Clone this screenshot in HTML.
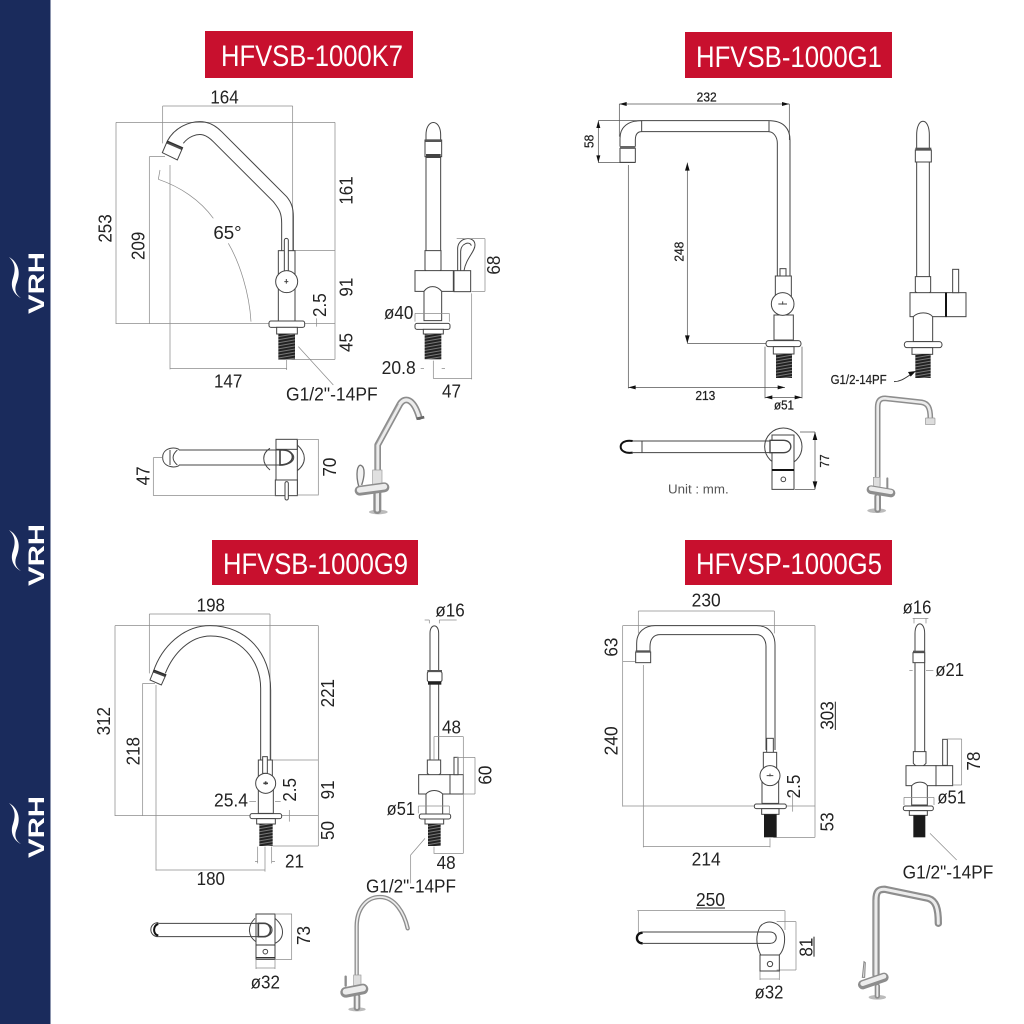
<!DOCTYPE html>
<html><head><meta charset="utf-8"><style>
html,body{margin:0;padding:0;background:#fff;width:1024px;height:1024px;overflow:hidden}
svg{display:block;filter:blur(.3px)}
text{font-family:"Liberation Sans",sans-serif;fill:#222}
.t{font-size:56px}.s{font-size:38px;stroke:#222;stroke-width:.7}
.d{stroke:#8c8c8c;stroke-width:2.2;fill:none}
.o{stroke:#444;stroke-width:3;fill:none}
.f{stroke:#444;stroke-width:3;fill:#fff}
.a{stroke:#8d8d8d;fill:none;stroke-linecap:round;stroke-linejoin:round}
.b{stroke:#ececec;fill:none;stroke-linecap:round;stroke-linejoin:round}
.c{stroke:#a5a5a5;fill:none;stroke-linecap:round;stroke-linejoin:round}
.k{fill:#111}
.h{font-size:30px;fill:#fff}
.v{font-size:22px;fill:#fff;font-weight:bold}
</style></head><body>
<svg width="1024" height="1024" viewBox="0 0 1024 1024" xmlns="http://www.w3.org/2000/svg">
<defs>
<pattern id="th" width="8" height="9" patternUnits="userSpaceOnUse" patternTransform="rotate(-10)"><rect width="8" height="9" fill="#222"/><rect width="8" height="3" fill="#777"/></pattern>
</defs>
<rect width="1024" height="1024" fill="#fff"/>
<rect width="50.5" height="1024" fill="#1a2b5c"/>
<g fill="#fff">
<path d="M9,257C18,262 21,272 17,282C14,289 15,294 21,298C13,294 10,286 13,278C16,269 15,263 9,257Z"/>
<path d="M9,530C18,535 21,545 17,555C14,562 15,567 21,571C13,567 10,559 13,551C16,542 15,536 9,530Z"/>
<path d="M9,803C18,808 21,818 17,828C14,835 15,840 21,844C13,840 10,832 13,824C16,815 15,809 9,803Z"/>
</g>
<text class="v" transform="translate(44,314) rotate(-90)" textLength="62" lengthAdjust="spacingAndGlyphs">VRH</text>
<text class="v" transform="translate(44,586) rotate(-90)" textLength="62" lengthAdjust="spacingAndGlyphs">VRH</text>
<text class="v" transform="translate(44,858) rotate(-90)" textLength="62" lengthAdjust="spacingAndGlyphs">VRH</text>

<rect x="205" y="31" width="208" height="47" fill="#c8102e"/>
<text class="h" x="221" y="66" textLength="182" lengthAdjust="spacingAndGlyphs">HFVSB-1000K7</text>
<rect x="685" y="32" width="207" height="46" fill="#c8102e"/>
<text class="h" x="696" y="67" textLength="186" lengthAdjust="spacingAndGlyphs">HFVSB-1000G1</text>
<rect x="212" y="540" width="206" height="45" fill="#c8102e"/>
<text class="h" x="223" y="574" textLength="185" lengthAdjust="spacingAndGlyphs">HFVSB-1000G9</text>
<rect x="685" y="540" width="207" height="45" fill="#c8102e"/>
<text class="h" x="696" y="574" textLength="186" lengthAdjust="spacingAndGlyphs">HFVSP-1000G5</text>

<!-- PANEL 1 -->
<g transform="translate(90,80) scale(.33333)">
<path class="d" d="M218,78H608M218,78V190M608,78V512M78,127H735M78,127V732M735,127V838M78,731H735M178,230V731M178,230H225M240,255V868M240,866H590M590,840V870M615,512H735M565,838H735M680,715V740M625,800L730,915M205,298L210,270M205,298C270,320 330,360 370,415M415,490C450,550 478,640 483,725"/>
<path class="o" d="M232,183C255,140 300,125 330,125C360,125 380,140 395,155L590,350C605,368 610,385 610,410V512M280,190C295,170 320,160 340,165C350,168 360,175 370,185L550,365C565,385 575,395 575,430V512"/>
<path class="f" d="M232,183L278,203L262,240L217,218Z"/>
<path class="k" d="M232,183L278,203L275,210L229,190Z" opacity=".75"/>
<rect class="f" x="565" y="512" width="50" height="212"/>
<rect class="f" x="583" y="475" width="12" height="155" rx="6"/>
<circle class="f" cx="590" cy="605" r="33"/>
<path class="o" d="M583,605h12M589,597v14"/>
<rect class="f" x="537" y="723" width="107" height="19" rx="6"/>
<rect class="f" x="560" y="742" width="62" height="20"/>
<rect x="565" y="762" width="50" height="76" fill="url(#th)"/>
<text class="t" x="361" y="71" textLength="85" lengthAdjust="spacingAndGlyphs">164</text>
<text class="t" transform="translate(65,488) rotate(-90)" textLength="85" lengthAdjust="spacingAndGlyphs">253</text>
<text class="t" transform="translate(163,540) rotate(-90)" textLength="85" lengthAdjust="spacingAndGlyphs">209</text>
<text class="t" x="370" y="477" textLength="85" lengthAdjust="spacingAndGlyphs">65°</text>
<text class="t" transform="translate(788,374) rotate(-90)" textLength="85" lengthAdjust="spacingAndGlyphs">161</text>
<text class="t" transform="translate(788,650) rotate(-90)" textLength="57" lengthAdjust="spacingAndGlyphs">91</text>
<text class="t" transform="translate(708,711) rotate(-90)" textLength="71" lengthAdjust="spacingAndGlyphs">2.5</text>
<text class="t" transform="translate(788,816) rotate(-90)" textLength="57" lengthAdjust="spacingAndGlyphs">45</text>
<text class="t" x="372" y="923" textLength="85" lengthAdjust="spacingAndGlyphs">147</text>
<text class="t" x="588" y="962" textLength="275" lengthAdjust="spacingAndGlyphs">G1/2"-14PF</text>
<!-- side -->
<path class="o" d="M1008,512V165C1008,115 1052,115 1052,165V512"/>
<rect class="f" x="1005" y="180" width="50" height="50"/>
<rect x="1006" y="178" width="48" height="8" fill="#555"/>
<rect x="1008" y="222" width="44" height="12" fill="#444"/>
<path class="f" d="M1005,570V512H1053V570C1040,585 1018,585 1005,570Z"/>
<path class="f" d="M975,572H1090V634H975Z"/>
<path class="f" d="M1002,634C1015,615 1040,615 1055,634V722H1002Z"/>
<rect class="f" x="1092" y="572" width="50" height="63"/>
<path class="o" d="M1103,572V510C1100,470 1155,465 1155,495C1155,515 1128,535 1122,572M1112,572V515C1112,490 1140,482 1144,497"/>
<rect class="f" x="975" y="730" width="105" height="18" rx="6"/>
<rect class="f" x="1000" y="748" width="60" height="14"/>
<rect x="1004" y="762" width="50" height="76" fill="url(#th)"/>
<path class="d" d="M1100,476H1185M1185,476V634M1145,634H1185M975,700H1078M975,700V725M1078,700V725M992,866H1002M1055,866H1065M1030,842V895M1030,896H1145M1145,640V898"/>
<text class="t" transform="translate(1230,584) rotate(-90)" textLength="57" lengthAdjust="spacingAndGlyphs">68</text>
<text class="t" x="882" y="717" textLength="88" lengthAdjust="spacingAndGlyphs">ø40</text>
<text class="t" x="875" y="882" textLength="102" lengthAdjust="spacingAndGlyphs">20.8</text>
<text class="t" x="1056" y="952" textLength="57" lengthAdjust="spacingAndGlyphs">47</text>
<!-- top -->
<path class="f" d="M218,1132C218,1100 262,1100 268,1110H570C625,1110 625,1155 570,1155H268C262,1165 218,1165 218,1132Z"/>
<path class="o" d="M240,1110V1155M262,1110C245,1125 245,1140 262,1155"/>
<path class="o" d="M540,1105C515,1120 515,1150 540,1170M622,1095C650,1120 650,1150 622,1172"/>
<rect class="f" x="558" y="1078" width="64" height="30"/>
<path class="o" d="M558,1078V1245H622V1078"/>
<path class="f" d="M570,1110C620,1105 620,1155 570,1155Z" style="stroke-width:5"/>
<rect class="f" x="556" y="1200" width="66" height="47"/>
<rect class="f" x="585" y="1205" width="10" height="55" rx="5"/>
<path class="d" d="M622,1078H685V1245H622M190,1133V1246H556M190,1133H218"/>
<text class="t" transform="translate(178,1216) rotate(-90)" textLength="57" lengthAdjust="spacingAndGlyphs">47</text>
<text class="t" transform="translate(738,1190) rotate(-90)" textLength="57" lengthAdjust="spacingAndGlyphs">70</text>
</g>
<!-- photo 1 -->
<g transform="translate(345,390) scale(.33333)">
<path d="M42,292C30,250 38,222 48,226C62,232 58,262 50,285" fill="#f2f2f2" stroke="#777" stroke-width="4"/>
<ellipse cx="100" cy="366" rx="28" ry="7" fill="#bbb"/>
<path class="a" stroke-width="24" d="M97,360V305"/><path class="b" stroke-width="10" d="M97,360V305"/>
<path class="a" stroke-width="20" d="M98,290V165L165,42C180,20 205,25 222,80"/>
<path class="b" stroke-width="10" d="M98,290V165L165,42C180,20 205,25 222,80"/>
<path class="c" stroke-width="2.5" d="M93,290V165L160,42"/>
<rect x="214" y="80" width="24" height="8" fill="#666" transform="rotate(-12 226 84)"/>
<rect x="83" y="240" width="28" height="55" fill="#e0e0e0" stroke="#999" stroke-width="2"/>
<path class="a" stroke-width="30" d="M44,302L118,292"/><path class="b" stroke-width="17" d="M44,300L118,290"/>
</g>

<!-- PANEL 2 -->
<g transform="translate(570,80) scale(.33333)">
<path class="d" style="stroke:#555" d="M148,72H658M148,72V170M658,72V180M85,122H215M85,122V248M85,248H195M352,248V790M352,790H590M175,255V925M175,922H645M585,800V955M696,800V955M585,952H696M690,1056H735M735,1056V1228M675,1228H735"/>
<g class="k"><path d="M148,72l22,-6v12ZM658,72l-22,-6v12ZM85,122l-6,22h12ZM85,248l-6,-22h12ZM352,248l-7,24h14ZM352,790l-7,-24h14ZM175,922l22,-6v12ZM645,922l-22,-6v12ZM585,952l22,-6v12ZM696,952l-22,-6v12ZM735,1056l-7,24h14ZM735,1228l-7,-24h14Z"/></g>
<path class="o" d="M150,200V175C150,140 175,122 215,122H595C640,122 660,145 660,180V590M196,200V180C196,160 205,155 215,155H595C610,155 622,170 622,190V590M215,122V155M597,122V155"/>
<rect class="f" x="150" y="205" width="46" height="42"/>
<rect x="150" y="198" width="46" height="8" fill="#666"/>
<rect class="f" x="630" y="566" width="18" height="60"/>
<rect class="f" x="616" y="588" width="48" height="60"/>
<path class="f" d="M612,705H670V780H612Z"/>
<circle class="f" cx="638" cy="672" r="34"/>
<path class="o" d="M625,672h26M638,664v10"/>
<rect class="f" x="588" y="782" width="105" height="18" rx="8"/>
<rect class="f" x="610" y="800" width="62" height="22"/>
<rect x="618" y="822" width="48" height="72" fill="url(#th)"/>
<text class="s" x="380" y="64" textLength="60" lengthAdjust="spacingAndGlyphs">232</text>
<text class="s" transform="translate(70,204) rotate(-90)" textLength="40" lengthAdjust="spacingAndGlyphs">58</text>
<text class="s" transform="translate(340,545) rotate(-90)" textLength="60" lengthAdjust="spacingAndGlyphs">248</text>
<text class="s" x="376" y="960" textLength="60" lengthAdjust="spacingAndGlyphs">213</text>
<text class="s" x="612" y="989" textLength="60" lengthAdjust="spacingAndGlyphs">ø51</text>
<text class="s" transform="translate(777,1163) rotate(-90)" textLength="40" lengthAdjust="spacingAndGlyphs">77</text>
<!-- side -->
<path class="o" d="M1040,590V165C1040,110 1078,110 1078,165V590"/>
<rect class="f" x="1036" y="210" width="48" height="36"/>
<rect x="1036" y="203" width="48" height="9" fill="#555"/>
<path class="f" d="M1036,590H1082V635C1070,648 1050,648 1036,635Z"/>
<rect class="f" x="1020" y="638" width="108" height="72"/>
<rect class="f" x="1128" y="638" width="60" height="72"/>
<path d="M1128,638V710" stroke="#111" stroke-width="6"/>
<rect class="f" x="1148" y="568" width="18" height="70"/>
<path class="f" d="M1030,710C1045,695 1075,695 1088,710V785H1030Z"/>
<rect class="f" x="1003" y="785" width="113" height="18" rx="8"/>
<rect class="f" x="1026" y="803" width="62" height="20"/>
<rect x="1036" y="822" width="46" height="72" fill="url(#th)"/>
<path d="M972,905C995,905 1010,890 1028,880" stroke="#333" stroke-width="3" fill="none"/>
<path class="k" d="M1038,873l-24,3 8,14Z"/>
<text class="s" x="782" y="912" textLength="168" lengthAdjust="spacingAndGlyphs">G1/2-14PF</text>
<!-- top -->
<path d="M188,1083C140,1075 140,1125 188,1118" fill="none" stroke="#111" stroke-width="6"/>
<path class="o" d="M188,1083H630C680,1083 675,1118 630,1118H188M216,1083V1118M600,1083V1118"/>
<circle class="o" cx="640" cy="1100" r="56"/>
<path class="f" d="M606,1065H672V1228H606Z"/>
<path class="f" d="M600,1081H640C670,1081 670,1118 640,1118H600Z" style="stroke-width:4"/>
<path d="M606,1170H672" stroke="#111" stroke-width="6"/>
<circle class="o" cx="640" cy="1198" r="7"/>
<text x="294" y="1240" textLength="182" lengthAdjust="spacingAndGlyphs" style="font-size:40px;fill:#555">Unit : mm.</text>
</g>
<!-- photo 2 -->
<g transform="translate(855,390) scale(.33333)">
<ellipse cx="65" cy="362" rx="28" ry="7" fill="#bbb"/>
<path class="a" stroke-width="20" d="M68,358V320"/><path class="b" stroke-width="8" d="M68,358V320"/>
<path class="a" stroke-width="17" d="M68,285V52C68,32 75,25 90,25L200,37C218,40 226,52 226,85"/>
<path class="b" stroke-width="8" d="M68,285V52C68,32 75,25 90,25L200,37C218,40 226,52 226,85"/>
<rect x="211" y="84" width="29" height="20" rx="2" fill="#ddd" stroke="#999" stroke-width="2"/>
<rect x="55" y="262" width="20" height="30" fill="#ddd" stroke="#999" stroke-width="2"/>
<path class="a" stroke-width="6" d="M97,265V295"/>
<path class="a" stroke-width="26" d="M48,299L108,309"/><path class="b" stroke-width="13" d="M48,296L108,306"/>
</g>

<!-- PANEL 3 -->
<g transform="translate(90,590) scale(.33333)">
<path class="d" d="M178,72H540M178,72V250M540,72V510M75,107H685M75,107V678M685,107V768M75,677H685M158,280V677M158,280H195M198,285V842M198,840H525M525,770V845M545,510H685M548,768H685M503,770V820M545,770V820M495,815H503M545,815H555M478,635H498M555,635H572M598,660V695"/>
<path class="o" d="M190,245C215,170 280,107 360,107C470,107 542,190 542,300V510M226,250C250,190 300,138 362,138C450,138 512,210 512,295V510"/>
<path class="f" d="M192,240L228,254L214,285L180,270Z"/>
<path class="k" d="M192,240L228,254L225,261L189,247Z" opacity=".8"/>
<rect class="f" x="505" y="510" width="42" height="60"/>
<rect class="f" x="518" y="500" width="14" height="50"/>
<path class="f" d="M505,600H550V670H505Z"/>
<circle class="f" cx="527" cy="580" r="30"/>
<path class="o" d="M520,580h14M527,574v10" style="stroke-width:5"/>
<rect class="f" x="480" y="671" width="95" height="15" rx="6"/>
<rect class="f" x="500" y="686" width="56" height="16"/>
<rect x="508" y="702" width="40" height="66" fill="url(#th)"/>
<text class="t" x="320" y="65" textLength="85" lengthAdjust="spacingAndGlyphs">198</text>
<text class="t" transform="translate(60,436) rotate(-90)" textLength="85" lengthAdjust="spacingAndGlyphs">312</text>
<text class="t" transform="translate(148,526) rotate(-90)" textLength="85" lengthAdjust="spacingAndGlyphs">218</text>
<text class="t" transform="translate(732,352) rotate(-90)" textLength="85" lengthAdjust="spacingAndGlyphs">221</text>
<text class="t" transform="translate(732,628) rotate(-90)" textLength="57" lengthAdjust="spacingAndGlyphs">91</text>
<text class="t" transform="translate(618,635) rotate(-90)" textLength="71" lengthAdjust="spacingAndGlyphs">2.5</text>
<text class="t" transform="translate(732,750) rotate(-90)" textLength="57" lengthAdjust="spacingAndGlyphs">50</text>
<text class="t" x="372" y="650" textLength="102" lengthAdjust="spacingAndGlyphs">25.4</text>
<text class="t" x="585" y="832" textLength="57" lengthAdjust="spacingAndGlyphs">21</text>
<text class="t" x="320" y="885" textLength="85" lengthAdjust="spacingAndGlyphs">180</text>
<!-- side -->
<path class="o" d="M1020,510V130C1020,100 1046,100 1046,130V510"/>
<rect class="f" x="1012" y="245" width="44" height="30" rx="5"/>
<rect x="1012" y="240" width="44" height="6" fill="#555"/><rect x="1014" y="275" width="40" height="9" fill="#222"/>
<path class="f" d="M1012,510H1052V550C1040,562 1025,562 1012,550Z"/>
<rect class="f" x="986" y="554" width="94" height="58"/>
<rect class="f" x="1080" y="554" width="40" height="58"/>
<rect class="f" x="1092" y="502" width="12" height="52"/>
<path class="f" d="M1008,612C1020,598 1045,598 1058,612V672H1008Z"/>
<rect class="f" x="988" y="672" width="94" height="15" rx="6"/>
<rect class="f" x="1005" y="687" width="56" height="15"/>
<rect x="1014" y="702" width="38" height="66" fill="url(#th)"/>
<path class="d" d="M1004,90H1018M1048,90H1100M1018,90V100M1048,90V100M1032,440H1120M1032,440V510M1120,440V790M1100,502H1155M1155,502V612M1120,612H1155M985,648H1078M985,648V670M1078,648V670M1032,770V790H1120M1005,745L962,795V880"/>
<text class="t" x="1036" y="80" textLength="88" lengthAdjust="spacingAndGlyphs">ø16</text>
<text class="t" x="1056" y="430" textLength="57" lengthAdjust="spacingAndGlyphs">48</text>
<text class="t" transform="translate(1205,584) rotate(-90)" textLength="57" lengthAdjust="spacingAndGlyphs">60</text>
<text class="t" x="890" y="675" textLength="85" lengthAdjust="spacingAndGlyphs">ø51</text>
<text class="t" x="1040" y="837" textLength="57" lengthAdjust="spacingAndGlyphs">48</text>
<text class="t" x="828" y="908" textLength="270" lengthAdjust="spacingAndGlyphs">G1/2"-14PF</text>
<!-- top -->
<path class="o" d="M205,998C175,998 175,1040 205,1040"/>
<path d="M205,1002C188,1005 188,1035 205,1036" fill="none" stroke="#111" stroke-width="6"/>
<path class="o" d="M205,1000H520C555,1000 555,1040 520,1040H205"/>
<path class="o" d="M495,985C470,1010 475,1040 498,1055M555,985C585,1010 585,1045 555,1060"/>
<path class="o" d="M498,972H555V1108H498Z"/>
<path class="f" d="M505,1000H522C548,1000 548,1040 522,1040H505Z" style="stroke-width:5"/>
<path d="M498,1065H555" stroke="#333" stroke-width="3"/><path d="M498,1103H555" stroke="#333" stroke-width="4"/>
<circle class="o" cx="526" cy="1085" r="7"/>
<path class="d" d="M555,972H605V1108H555M498,1108V1137M555,1108V1137M498,1134H555"/>
<text class="t" transform="translate(660,1065) rotate(-90)" textLength="57" lengthAdjust="spacingAndGlyphs">73</text>
<text class="t" x="482" y="1196" textLength="88" lengthAdjust="spacingAndGlyphs">ø32</text>
</g>
<!-- photo 3 -->
<g transform="translate(335,885) scale(.33333)">
<ellipse cx="66" cy="373" rx="26" ry="6" fill="#bbb"/>
<path class="a" stroke-width="20" d="M66,368V335"/><path class="b" stroke-width="8" d="M66,368V335"/>
<path class="a" stroke-width="13" d="M65,285V125C65,70 95,36 135,36C180,36 208,85 218,130"/>
<path class="b" stroke-width="5" d="M65,285V125C65,70 95,36 135,36C180,36 208,85 218,130"/>
<rect x="56" y="270" width="22" height="32" fill="#ddd" stroke="#999" stroke-width="2"/>
<path class="a" stroke-width="7" d="M32,275V302"/>
<path class="a" stroke-width="32" d="M32,322L84,312"/><path class="b" stroke-width="18" d="M32,320L84,310"/>
</g>

<!-- PANEL 4 -->
<g transform="translate(590,590) scale(.33333)">
<path class="d" d="M145,63H553M145,63V130M553,63V130M98,107H675M98,107V650M675,107V742M98,648H675M98,215H135M160,225V772M160,770H540M540,745V772M550,742H675M608,610V665M145,962V1030M142,962H585M585,962V1020M560,995H618M618,995V1140M560,1140H618M510,1140V1170M568,1140V1170M510,1167H568"/>
<path class="o" d="M140,185V160C140,125 165,107 195,107H500C535,107 555,130 555,165V480M180,185V170C180,148 190,134 210,134H500C518,134 528,150 528,170V480"/>
<rect class="f" x="137" y="186" width="45" height="32"/>
<rect x="137" y="181" width="45" height="7" fill="#555"/>
<rect class="f" x="530" y="445" width="20" height="60"/>
<rect class="f" x="520" y="487" width="40" height="50"/>
<path class="f" d="M516,570H566V640H516Z"/>
<circle class="f" cx="540" cy="557" r="30"/>
<path class="o" d="M530,557h20M540,551v8"/>
<rect class="f" x="493" y="642" width="96" height="14" rx="6"/>
<rect class="f" x="515" y="656" width="52" height="17"/>
<rect x="522" y="673" width="38" height="69" fill="#1a1a1a"/>
<text class="t" x="305" y="50" textLength="87" lengthAdjust="spacingAndGlyphs">230</text>
<text class="t" transform="translate(82,200) rotate(-90)" textLength="57" lengthAdjust="spacingAndGlyphs">63</text>
<text class="t" transform="translate(82,496) rotate(-90)" textLength="87" lengthAdjust="spacingAndGlyphs">240</text>
<text class="t" transform="translate(730,419) rotate(-90)" textLength="85" lengthAdjust="spacingAndGlyphs">303</text>
<path d="M736,335V420" stroke="#222" stroke-width="3"/>
<text class="t" transform="translate(630,625) rotate(-90)" textLength="71" lengthAdjust="spacingAndGlyphs">2.5</text>
<text class="t" transform="translate(730,724) rotate(-90)" textLength="57" lengthAdjust="spacingAndGlyphs">53</text>
<text class="t" x="305" y="827" textLength="87" lengthAdjust="spacingAndGlyphs">214</text>
<!-- side -->
<path class="o" d="M975,485V130C975,92 1004,92 1004,130V485"/>
<rect class="f" x="969" y="188" width="35" height="30"/>
<rect x="969" y="182" width="35" height="6" fill="#555"/>
<path class="f" d="M970,485H1008V520C995,535 982,535 970,520Z"/>
<rect class="f" x="948" y="527" width="90" height="60"/>
<rect class="f" x="1038" y="527" width="50" height="60"/>
<rect class="f" x="1058" y="448" width="14" height="78"/>
<path class="f" d="M965,587C978,573 1003,573 1012,587V645H965Z"/>
<rect class="f" x="940" y="648" width="90" height="14" rx="6"/>
<rect class="f" x="958" y="662" width="54" height="14"/>
<rect x="970" y="676" width="36" height="66" fill="#1a1a1a"/>
<path class="d" d="M1072,447H1115M1115,447V585M1088,585H1115M942,622H1032M942,622V645M1032,622V645M958,242H968M1008,242H1030M968,85H1015M972,85V100M1008,85V100M1020,730L1100,810"/>
<text class="t" x="938" y="70" textLength="86" lengthAdjust="spacingAndGlyphs">ø16</text>
<text class="t" x="1036" y="258" textLength="86" lengthAdjust="spacingAndGlyphs">ø21</text>
<text class="t" transform="translate(1170,542) rotate(-90)" textLength="57" lengthAdjust="spacingAndGlyphs">78</text>
<text class="t" x="1042" y="640" textLength="86" lengthAdjust="spacingAndGlyphs">ø51</text>
<text class="t" x="938" y="865" textLength="272" lengthAdjust="spacingAndGlyphs">G1/2"-14PF</text>
<!-- top -->
<path d="M158,1028C135,1028 135,1060 158,1060" fill="none" stroke="#111" stroke-width="7"/>
<path class="o" d="M158,1026H540C565,1026 565,1060 540,1060H158"/>
<path class="o" d="M510,1010C495,1040 500,1070 512,1095M510,1010C530,985 570,995 582,1030C588,1060 578,1085 568,1095"/>
<rect class="o" x="510" y="1095" width="58" height="48"/>
<circle class="o" cx="540" cy="1122" r="8"/>
<text class="t" x="318" y="948" textLength="87" lengthAdjust="spacingAndGlyphs">250</text>
<path d="M318,954H405" stroke="#222" stroke-width="3"/>
<text class="t" transform="translate(668,1100) rotate(-90)" textLength="57" lengthAdjust="spacingAndGlyphs">81</text>
<path d="M672,1040V1100" stroke="#222" stroke-width="3"/>
<text class="t" x="494" y="1225" textLength="86" lengthAdjust="spacingAndGlyphs">ø32</text>
</g>
<!-- photo 4 -->
<g transform="translate(850,880) scale(.33333)">
<ellipse cx="82" cy="352" rx="26" ry="7" fill="#bbb"/>
<path class="a" stroke-width="16" d="M82,348V318"/><path class="b" stroke-width="6" d="M82,348V318"/>
<path class="a" stroke-width="22" d="M78,285V60C78,35 85,27 105,28L235,55C258,62 265,85 265,130"/>
<path class="b" stroke-width="9" d="M78,285V60C78,35 85,27 105,28L235,55C258,62 265,85 265,130"/>
<path class="c" stroke-width="2.5" d="M72,285V60"/>
<path d="M42,245L46,248L44,292H37Z" fill="#ddd" stroke="#888" stroke-width="3"/>
<path class="a" stroke-width="28" d="M38,314L102,292"/><path class="b" stroke-width="14" d="M38,311L102,289"/>
</g>
</svg>
</body></html>
